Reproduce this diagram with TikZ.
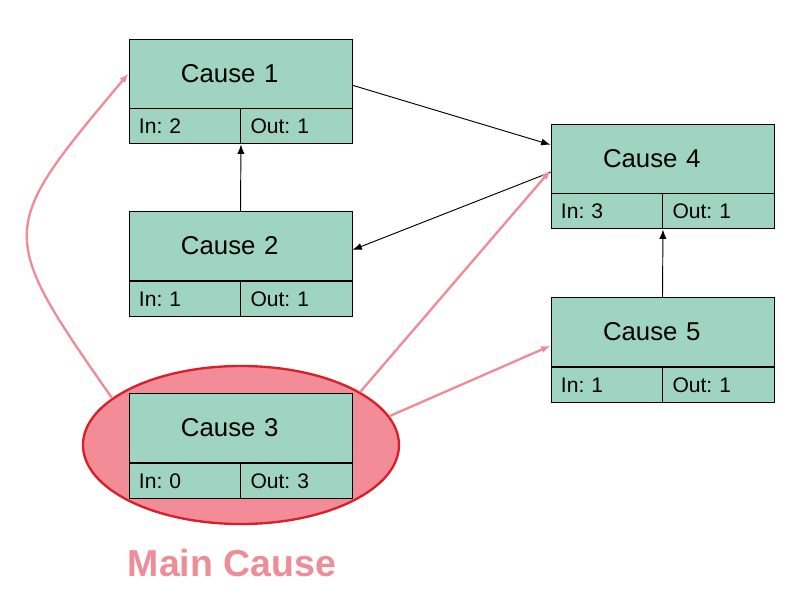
\documentclass[tikz,border=0pt]{standalone}
\usepackage{fontspec}
\setmainfont{Liberation Sans}
\usetikzlibrary{positioning,shapes.geometric,arrows.meta}

\definecolor{boxgreen}{HTML}{9FD4C2}
\definecolor{ellfill}{HTML}{F28D98}
\definecolor{ellline}{HTML}{DA1F2A}
\definecolor{linkpink}{HTML}{EE8C97}

\tikzset{
	cause/.style={draw=black, fill=boxgreen, line width=0.8pt, inner xsep=1.56cm, inner ysep=0pt,
		minimum width=6.69cm, minimum height=2.07cm, text width=3.57cm, align=left,
		font=\fontsize{22}{26}\selectfont},
	cell/.style={draw=black, fill=boxgreen, line width=0.8pt, inner xsep=0.3cm, inner ysep=0pt,
		minimum width=3.345cm, minimum height=1.05cm, text width=2.745cm, align=left,
		font=\fontsize{18}{21}\selectfont\frenchspacing},
	link/.style={->, >={Latex[length=8pt,width=6pt]}, line width=0.8pt},
	mainlink/.style={->, >={Latex[length=8pt,width=6pt]}, draw=linkpink, line width=2pt},
}

\begin{document}
\begin{tikzpicture}[x=0.03cm, y=-0.03cm]
	\useasboundingbox (0,0) rectangle (800,614);
	% main cause
	\node (mainell) [ellipse, draw=ellline, fill=ellfill, line width=2pt, inner sep=0pt,
		minimum width=9.48cm, minimum height=4.74cm] at (241,445) {};
	\node (mainlbl) [text=linkpink, font=\fontsize{32}{37}\selectfont\bfseries] at (232,563) {Main Cause};

	\node (c1) [cause] at (240.5,73.5) {Cause 1};
	\node (c1in) [cell, below right=0pt of c1.south west] {In: 2};
	\node (c1out) [cell, below left=0pt of c1.south east] {Out: 1};

	\node (c2) [cause] at (240.5,246) {Cause 2};
	\node (c2in) [cell, below right=0pt of c2.south west] {In: 1};
	\node (c2out) [cell, below left=0pt of c2.south east] {Out: 1};

	\node (c3) [cause] at (240.5,428) {Cause 3};
	\node (c3in) [cell, below right=0pt of c3.south west] {In: 0};
	\node (c3out) [cell, below left=0pt of c3.south east] {Out: 3};

	\node (c4) [cause] at (662.5,158.5) {Cause 4};
	\node (c4in) [cell, below right=0pt of c4.south west] {In: 3};
	\node (c4out) [cell, below left=0pt of c4.south east] {Out: 1};

	\node (c5) [cause] at (662.5,332) {Cause 5};
	\node (c5in) [cell, below right=0pt of c5.south west] {In: 1};
	\node (c5out) [cell, below left=0pt of c5.south east] {Out: 1};

	\draw [link] (c1.-6) to (c4.173);
	\draw [link] (c4.187) to (c2.-2);
	\draw [link] (c2.north) to (c1in.south east);
	\draw [link] (c5.north) to (c4in.south east);

	\draw [mainlink] (mainell.160) to [out=125, in=230, looseness=1.6] (c1.west);
	\draw [mainlink] (mainell.24) to (c4.186);
	\draw [mainlink] (mainell.11) to (c5.187);
\end{tikzpicture}
\end{document}
